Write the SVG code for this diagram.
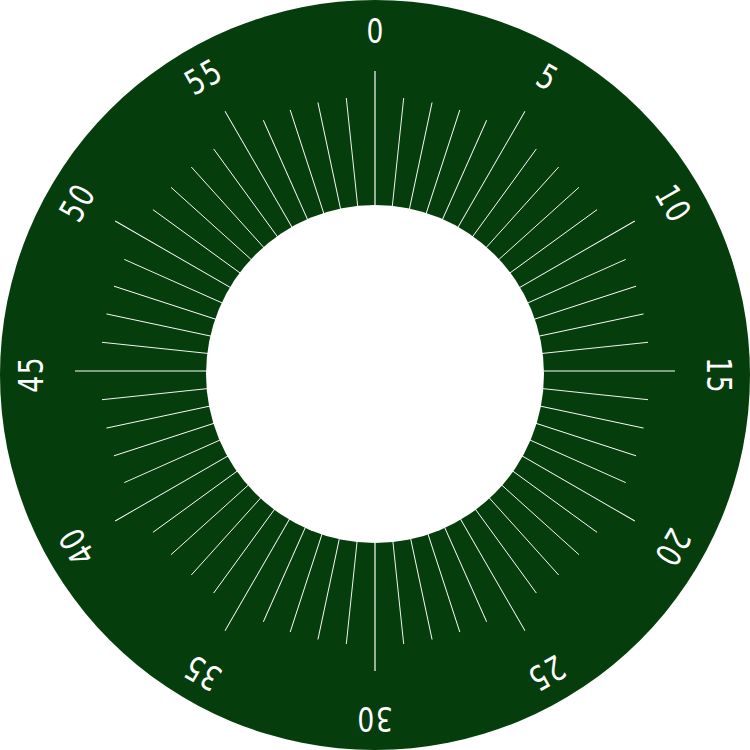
<svg xmlns="http://www.w3.org/2000/svg" width="750" height="750" viewBox="0 0 750 750">
<style>
.face{fill:#063d0d}
.hole{fill:#ffffff}
.minor{stroke:#ffffff;stroke-width:0.9}
.major{stroke:#ffffff;stroke-width:1.2}
.lbl{fill:#ffffff;font-family:"DejaVu Sans","Liberation Sans",sans-serif;font-size:34px;letter-spacing:2px;text-anchor:middle}
</style>
<rect width="750" height="750" fill="#ffffff"/>
<circle class="face" cx="375" cy="375" r="375"/>
<g id="ticks">
<line class="major" x1="375" y1="271" x2="375" y2="71" transform="rotate(0 375 371)"/>
<line class="minor" x1="375" y1="271" x2="375" y2="96.5" transform="rotate(6 375 371)"/>
<line class="minor" x1="375" y1="271" x2="375" y2="96.5" transform="rotate(12 375 371)"/>
<line class="minor" x1="375" y1="271" x2="375" y2="96.5" transform="rotate(18 375 371)"/>
<line class="minor" x1="375" y1="271" x2="375" y2="96.5" transform="rotate(24 375 371)"/>
<line class="minor" x1="375" y1="271" x2="375" y2="71" transform="rotate(30 375 371)"/>
<line class="minor" x1="375" y1="271" x2="375" y2="96.5" transform="rotate(36 375 371)"/>
<line class="minor" x1="375" y1="271" x2="375" y2="96.5" transform="rotate(42 375 371)"/>
<line class="minor" x1="375" y1="271" x2="375" y2="96.5" transform="rotate(48 375 371)"/>
<line class="minor" x1="375" y1="271" x2="375" y2="96.5" transform="rotate(54 375 371)"/>
<line class="minor" x1="375" y1="271" x2="375" y2="71" transform="rotate(60 375 371)"/>
<line class="minor" x1="375" y1="271" x2="375" y2="96.5" transform="rotate(66 375 371)"/>
<line class="minor" x1="375" y1="271" x2="375" y2="96.5" transform="rotate(72 375 371)"/>
<line class="minor" x1="375" y1="271" x2="375" y2="96.5" transform="rotate(78 375 371)"/>
<line class="minor" x1="375" y1="271" x2="375" y2="96.5" transform="rotate(84 375 371)"/>
<line class="major" x1="375" y1="271" x2="375" y2="71" transform="rotate(90 375 371)"/>
<line class="minor" x1="375" y1="271" x2="375" y2="96.5" transform="rotate(96 375 371)"/>
<line class="minor" x1="375" y1="271" x2="375" y2="96.5" transform="rotate(102 375 371)"/>
<line class="minor" x1="375" y1="271" x2="375" y2="96.5" transform="rotate(108 375 371)"/>
<line class="minor" x1="375" y1="271" x2="375" y2="96.5" transform="rotate(114 375 371)"/>
<line class="minor" x1="375" y1="271" x2="375" y2="71" transform="rotate(120 375 371)"/>
<line class="minor" x1="375" y1="271" x2="375" y2="96.5" transform="rotate(126 375 371)"/>
<line class="minor" x1="375" y1="271" x2="375" y2="96.5" transform="rotate(132 375 371)"/>
<line class="minor" x1="375" y1="271" x2="375" y2="96.5" transform="rotate(138 375 371)"/>
<line class="minor" x1="375" y1="271" x2="375" y2="96.5" transform="rotate(144 375 371)"/>
<line class="minor" x1="375" y1="271" x2="375" y2="71" transform="rotate(150 375 371)"/>
<line class="minor" x1="375" y1="271" x2="375" y2="96.5" transform="rotate(156 375 371)"/>
<line class="minor" x1="375" y1="271" x2="375" y2="96.5" transform="rotate(162 375 371)"/>
<line class="minor" x1="375" y1="271" x2="375" y2="96.5" transform="rotate(168 375 371)"/>
<line class="minor" x1="375" y1="271" x2="375" y2="96.5" transform="rotate(174 375 371)"/>
<line class="major" x1="375" y1="271" x2="375" y2="71" transform="rotate(180 375 371)"/>
<line class="minor" x1="375" y1="271" x2="375" y2="96.5" transform="rotate(186 375 371)"/>
<line class="minor" x1="375" y1="271" x2="375" y2="96.5" transform="rotate(192 375 371)"/>
<line class="minor" x1="375" y1="271" x2="375" y2="96.5" transform="rotate(198 375 371)"/>
<line class="minor" x1="375" y1="271" x2="375" y2="96.5" transform="rotate(204 375 371)"/>
<line class="minor" x1="375" y1="271" x2="375" y2="71" transform="rotate(210 375 371)"/>
<line class="minor" x1="375" y1="271" x2="375" y2="96.5" transform="rotate(216 375 371)"/>
<line class="minor" x1="375" y1="271" x2="375" y2="96.5" transform="rotate(222 375 371)"/>
<line class="minor" x1="375" y1="271" x2="375" y2="96.5" transform="rotate(228 375 371)"/>
<line class="minor" x1="375" y1="271" x2="375" y2="96.5" transform="rotate(234 375 371)"/>
<line class="minor" x1="375" y1="271" x2="375" y2="71" transform="rotate(240 375 371)"/>
<line class="minor" x1="375" y1="271" x2="375" y2="96.5" transform="rotate(246 375 371)"/>
<line class="minor" x1="375" y1="271" x2="375" y2="96.5" transform="rotate(252 375 371)"/>
<line class="minor" x1="375" y1="271" x2="375" y2="96.5" transform="rotate(258 375 371)"/>
<line class="minor" x1="375" y1="271" x2="375" y2="96.5" transform="rotate(264 375 371)"/>
<line class="major" x1="375" y1="271" x2="375" y2="71" transform="rotate(270 375 371)"/>
<line class="minor" x1="375" y1="271" x2="375" y2="96.5" transform="rotate(276 375 371)"/>
<line class="minor" x1="375" y1="271" x2="375" y2="96.5" transform="rotate(282 375 371)"/>
<line class="minor" x1="375" y1="271" x2="375" y2="96.5" transform="rotate(288 375 371)"/>
<line class="minor" x1="375" y1="271" x2="375" y2="96.5" transform="rotate(294 375 371)"/>
<line class="minor" x1="375" y1="271" x2="375" y2="71" transform="rotate(300 375 371)"/>
<line class="minor" x1="375" y1="271" x2="375" y2="96.5" transform="rotate(306 375 371)"/>
<line class="minor" x1="375" y1="271" x2="375" y2="96.5" transform="rotate(312 375 371)"/>
<line class="minor" x1="375" y1="271" x2="375" y2="96.5" transform="rotate(318 375 371)"/>
<line class="minor" x1="375" y1="271" x2="375" y2="96.5" transform="rotate(324 375 371)"/>
<line class="minor" x1="375" y1="271" x2="375" y2="71" transform="rotate(330 375 371)"/>
<line class="minor" x1="375" y1="271" x2="375" y2="96.5" transform="rotate(336 375 371)"/>
<line class="minor" x1="375" y1="271" x2="375" y2="96.5" transform="rotate(342 375 371)"/>
<line class="minor" x1="375" y1="271" x2="375" y2="96.5" transform="rotate(348 375 371)"/>
<line class="minor" x1="375" y1="271" x2="375" y2="96.5" transform="rotate(354 375 371)"/>
</g>
<circle class="hole" cx="375" cy="374" r="169"/>
<g id="labels">
<text class="lbl" x="1" y="0" transform="rotate(0 375 375) translate(375 43) scale(0.78 1)">0</text>
<text class="lbl" x="1" y="0" transform="rotate(30 375 375) translate(375 43) scale(0.78 1)">5</text>
<text class="lbl" x="1" y="0" transform="rotate(60 375 375) translate(375 43) scale(0.78 1)">10</text>
<text class="lbl" x="1" y="0" transform="rotate(90 375 375) translate(375 43) scale(0.78 1)">15</text>
<text class="lbl" x="1" y="0" transform="rotate(120 375 375) translate(375 43) scale(0.78 1)">20</text>
<text class="lbl" x="1" y="0" transform="rotate(150 375 375) translate(375 43) scale(0.78 1)">25</text>
<text class="lbl" x="1" y="0" transform="rotate(180 375 375) translate(375 43) scale(0.78 1)">30</text>
<text class="lbl" x="1" y="0" transform="rotate(210 375 375) translate(375 43) scale(0.78 1)">35</text>
<text class="lbl" x="1" y="0" transform="rotate(240 375 375) translate(375 43) scale(0.78 1)">40</text>
<text class="lbl" x="1" y="0" transform="rotate(270 375 375) translate(375 43) scale(0.78 1)">45</text>
<text class="lbl" x="1" y="0" transform="rotate(300 375 375) translate(375 43) scale(0.78 1)">50</text>
<text class="lbl" x="1" y="0" transform="rotate(330 375 375) translate(375 43) scale(0.78 1)">55</text>
</g>
</svg>
